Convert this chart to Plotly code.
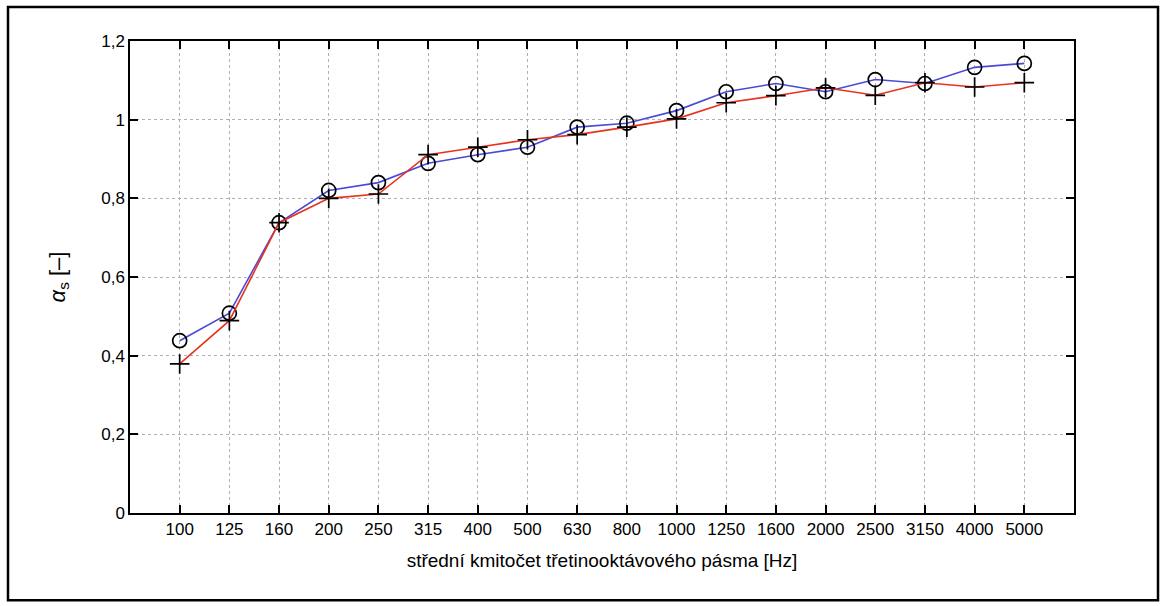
import plotly.graph_objects as go

freqs = ["100", "125", "160", "200", "250", "315", "400", "500", "630", "800",
         "1000", "1250", "1600", "2000", "2500", "3150", "4000", "5000"]
alpha_circle = [0.438, 0.508, 0.738, 0.820, 0.840, 0.889, 0.911, 0.930, 0.981, 0.991,
                1.023, 1.071, 1.092, 1.071, 1.102, 1.092, 1.133, 1.143]
alpha_plus = [0.379, 0.489, 0.738, 0.800, 0.811, 0.911, 0.930, 0.949, 0.962, 0.981,
              1.002, 1.043, 1.061, 1.081, 1.062, 1.094, 1.083, 1.094]
y_ticks = [0, 0.2, 0.4, 0.6, 0.8, 1.0, 1.2]
y_tick_labels = ["0", "0,2", "0,4", "0,6", "0,8", "1", "1,2"]

FONT = "Liberation Sans Narrow, Arial Narrow, Liberation Sans, Arial, sans-serif"

fig = go.Figure()
fig.add_trace(go.Scatter(
    x=freqs, y=alpha_circle, mode="lines+markers",
    line=dict(color="#4a4ad8", width=1.6),
    marker=dict(symbol="circle-open", size=14, color="black", line=dict(width=1.7)),
    showlegend=False))
fig.add_trace(go.Scatter(
    x=freqs, y=alpha_plus, mode="lines+markers",
    line=dict(color="#e8321e", width=1.6),
    marker=dict(symbol="cross-thin-open", size=14, color="black", line=dict(width=1.7, color="black")),
    showlegend=False))

fig.update_layout(
    width=1162, height=606,
    margin=dict(l=130, r=88, t=41, b=93),
    paper_bgcolor="white", plot_bgcolor="white",
    font=dict(family=FONT, size=17, color="black"),
    xaxis=dict(
        type="category", range=[-1, 18],
        showline=True, linecolor="black", linewidth=1.5, mirror="allticks",
        ticks="inside", ticklen=8, tickwidth=1.8, tickcolor="black",
        showgrid=True, gridcolor="#b0b0b0", gridwidth=1, griddash="dot",
        tickfont=dict(size=17),
        title=dict(text="střední kmitočet třetinooktávového pásma [Hz]",
                   font=dict(size=19), standoff=16),
        zeroline=False,
    ),
    yaxis=dict(
        range=[0, 1.2], tickvals=y_ticks, ticktext=y_tick_labels,
        showline=True, linecolor="black", linewidth=1.5, mirror="allticks",
        ticks="inside", ticklen=8, tickwidth=1.8, tickcolor="black",
        showgrid=True, gridcolor="#b0b0b0", gridwidth=1, griddash="dot",
        tickfont=dict(size=17),
        title=dict(text="<i>α</i><sub>s</sub> [–]", font=dict(size=22), standoff=30),
        zeroline=False,
    ),
)

# outer frame around the whole figure
fig.add_shape(type="rect", xref="paper", yref="paper",
              x0=(8 - 130) / 944, x1=(1158 - 130) / 944,
              y0=(512.7 - 600) / 471.7, y1=(512.7 - 7) / 471.7,
              line=dict(color="black", width=2.5), layer="below")

fig.write_html("out.html", config={"displayModeBar": False},
               post_script="document.body.style.margin='0';")
